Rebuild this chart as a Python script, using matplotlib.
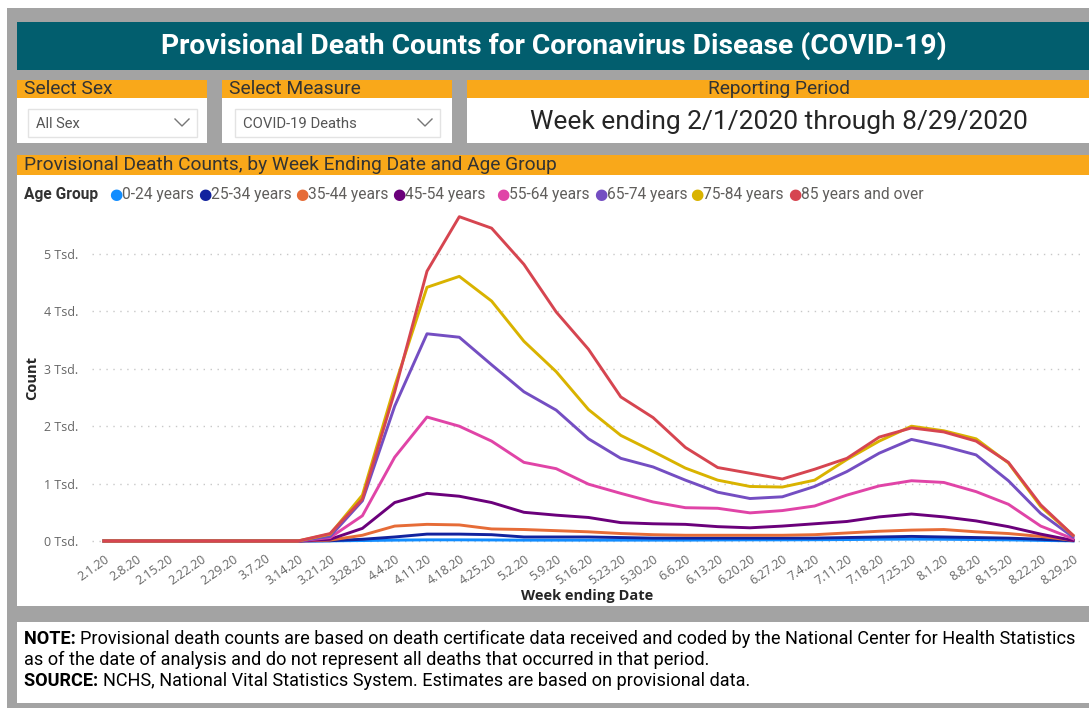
import matplotlib
matplotlib.use("Agg")
import matplotlib.pyplot as plt
from matplotlib.patches import Rectangle
from matplotlib.lines import Line2D
from matplotlib.ticker import FuncFormatter
from matplotlib import font_manager

W, H = 1089, 708

# week ending dates
weeks = ['2.1.20', '2.8.20', '2.15.20', '2.22.20', '2.29.20', '3.7.20', '3.14.20',
         '3.21.20', '3.28.20', '4.4.20', '4.11.20', '4.18.20', '4.25.20', '5.2.20',
         '5.9.20', '5.16.20', '5.23.20', '5.30.20', '6.6.20', '6.13.20', '6.20.20',
         '6.27.20', '7.4.20', '7.11.20', '7.18.20', '7.25.20', '8.1.20', '8.8.20',
         '8.15.20', '8.22.20', '8.29.20']

# deaths per age group
age_0_24 = [0, 0, 0, 0, 0, 0, 0, 2, 8, 15, 20, 20, 18, 15, 15, 15, 15, 15, 15, 18, 20,
            20, 22, 25, 30, 32, 30, 25, 20, 10, 2]
age_25_34 = [0, 0, 0, 0, 0, 0, 0, 5, 30, 70, 120, 120, 110, 70, 70, 70, 60, 50, 50, 50,
             50, 50, 50, 60, 70, 80, 70, 60, 50, 30, 5]
age_35_44 = [0, 0, 0, 0, 0, 0, 0, 15, 100, 260, 290, 280, 210, 200, 180, 160, 130, 110,
             100, 100, 100, 100, 110, 140, 170, 190, 200, 160, 130, 80, 10]
age_45_54 = [0, 0, 0, 0, 0, 0, 0, 30, 220, 670, 830, 780, 670, 500, 450, 410, 320, 300,
             290, 250, 230, 260, 300, 340, 420, 470, 420, 350, 250, 120, 10]
age_55_64 = [0, 0, 0, 0, 0, 0, 0, 60, 440, 1460, 2160, 2000, 1740, 1370, 1260, 990, 830,
             680, 580, 570, 490, 530, 610, 800, 960, 1050, 1020, 860, 640, 260, 40]
age_65_74 = [0, 0, 0, 0, 0, 0, 0, 80, 700, 2350, 3610, 3550, 3070, 2600, 2280, 1780, 1440,
             1290, 1060, 850, 740, 770, 950, 1210, 1530, 1770, 1650, 1500, 1050, 480, 70]
age_75_84 = [0, 0, 0, 0, 0, 0, 0, 120, 800, 2700, 4420, 4610, 4180, 3480, 2950, 2290, 1840,
             1560, 1270, 1060, 950, 940, 1060, 1420, 1740, 2000, 1920, 1780, 1360, 600, 100]
age_85_up = [0, 0, 0, 0, 0, 0, 0, 130, 730, 2600, 4700, 5650, 5450, 4820, 3990, 3340, 2510,
             2150, 1630, 1280, 1180, 1080, 1250, 1440, 1810, 1970, 1900, 1740, 1370, 630, 100]

groups = ['0-24 years', '25-34 years', '35-44 years', '45-54 years', '55-64 years',
          '65-74 years', '75-84 years', '85 years and over']
series = [age_0_24, age_25_34, age_35_44, age_45_54, age_55_64, age_65_74, age_75_84, age_85_up]
colors = ['#118DFF', '#12239E', '#E66C37', '#6B007B', '#E044A7', '#744EC2', '#D9B300', '#D64550']

# report texts: Roboto if present
installed = {f.name for f in font_manager.fontManager.ttflist}
ui_font = 'DejaVu Sans'
for name in ['Roboto', 'Liberation Sans']:
    if name in installed:
        ui_font = name
        break
UI = [ui_font, 'DejaVu Sans']
REG = ['Open Sans', 'DejaVu Sans']


def fx(x):
    return x / W


def fy(y):
    return 1 - y / H


def box(x0, y0, x1, y1, color, **kw):
    fig.patches.append(Rectangle((fx(x0), fy(y1)), (x1 - x0) / W, (y1 - y0) / H,
                                 transform=fig.transFigure, facecolor=color, **kw))


fig = plt.figure(figsize=(W / 100, H / 100), dpi=100)
fig.patch.set_facecolor('#a3a3a3')
renderer = fig.canvas.get_renderer()


def width(t):
    return t.get_window_extent(renderer=renderer).width


def fit(t, target):
    # scale the font so the text spans about as many pixels as in the report
    t.set_fontsize(t.get_fontsize() * target / width(t))
    return t


# white margins
box(0, 0, W, 8, 'white', edgecolor='none')
box(0, 0, 7, H, 'white', edgecolor='none')

# title banner
box(17, 22, W, 70, '#025e6e', edgecolor='none')
fit(fig.text(fx(554), fy(46), 'Provisional Death Counts for Coronavirus Disease (COVID-19)',
             color='white', fontsize=19, fontweight='bold', family=UI, ha='center',
             va='center'), 788)

# selector panels
orange = '#f9a81a'
panels = [(17, 207, 'Select Sex', 88), (222, 452, 'Select Measure', 131),
          (467, W, 'Reporting Period', 142)]
for x0, x1, lab, tw in panels:
    box(x0, 80, x1, 98, orange, edgecolor='none')
    box(x0, 98, x1, 143, 'white', edgecolor='none')
    if lab == 'Reporting Period':
        t = fig.text(fx(779), fy(89.5), lab, color='#333333', fontsize=12.5,
                     family=UI, ha='center', va='center')
    else:
        t = fig.text(fx(x0 + 7), fy(89.5), lab, color='#333333', fontsize=12.5,
                     family=UI, ha='left', va='center')
    fit(t, tw)

for x0, x1, lab, tw in [(28, 197, 'All Sex', 44), (235, 440, 'COVID-19 Deaths', 114)]:
    box(x0, 109, x1, 137, 'white', edgecolor='#e3e3e3', linewidth=1)
    fit(fig.text(fx(x0 + 8), fy(123.5), lab, color='#555555', fontsize=10.5, family=UI,
                 ha='left', va='center'), tw)
    cx = x1 - 15
    fig.lines.append(Line2D([fx(cx - 7), fx(cx), fx(cx + 7)], [fy(119), fy(126), fy(119)],
                            transform=fig.transFigure, color='#777777', linewidth=1))

fit(fig.text(fx(779), fy(122), 'Week ending 2/1/2020 through 8/29/2020', color='#252525',
             fontsize=18.5, family=UI, ha='center', va='center'), 498)

# chart section
box(17, 155, W, 175, orange, edgecolor='none')
fit(fig.text(fx(24), fy(165.5), 'Provisional Death Counts, by Week Ending Date and Age Group',
             color='#333333', fontsize=13.5, family=UI, ha='left', va='center'), 532)
box(17, 175, W, 606, 'white', edgecolor='none')

# legend
fit(fig.text(fx(24), fy(194.5), 'Age Group', color='#333333', fontsize=11,
             fontweight='bold', family=UI, ha='left', va='center'), 74)
leg_x = [116, 205, 302, 399, 503, 601, 697, 795]
t_last = fig.text(0, 0, groups[-1], fontsize=11, family=UI)
fit(t_last, 122)
leg_size = t_last.get_fontsize()
t_last.remove()
for lx, lab, c in zip(leg_x, groups, colors):
    fig.text(fx(lx), fy(194.5), '\u25CF', color=c, fontsize=11, family=['DejaVu Sans'],
             ha='center', va='center')
    fig.text(fx(lx + 6), fy(194.5), lab, color='#605e5c', fontsize=leg_size, family=UI,
             ha='left', va='center')

# plot area
px_per_k = 57.4
x_left, x_right = 92, 1085
i0_px, step = 104, (1073 - 104) / 30
ymin, ymax = -0.1, 5.8
y_bot = 541 - ymin * px_per_k
y_top = 541 - ymax * px_per_k
ax = fig.add_axes([fx(x_left), fy(y_bot), (x_right - x_left) / W, (y_bot - y_top) / H])
ax.set_zorder(5)
ax.set_facecolor('none')

x = list(range(len(weeks)))
for vals, c in zip(series, colors):
    ax.plot(x, [v / 1000 for v in vals], color=c, linewidth=2.1, solid_joinstyle='round',
            clip_on=False)

ax.set_xlim((x_left - i0_px) / step, (x_right - i0_px) / step)
ax.set_ylim(ymin, ymax)
ax.set_yticks([0, 1, 2, 3, 4, 5])
ax.yaxis.set_major_formatter(FuncFormatter(lambda v, p: f'{int(v)} Tsd.'))
ax.grid(axis='y', color='#c8c8c8', linestyle=(0, (1, 4)), linewidth=1)
ax.set_axisbelow(True)
ax.set_xticks(x)
ax.set_xticklabels(weeks, rotation=35, ha='right', rotation_mode='anchor')
for s in ax.spines.values():
    s.set_visible(False)
ax.tick_params(axis='both', length=0, labelcolor='#666666')
ax.tick_params(axis='y', labelsize=9, pad=10)
ax.tick_params(axis='x', labelsize=9, pad=4)
for t in ax.get_yticklabels() + ax.get_xticklabels():
    t.set_family(REG)

fig.text(fx(32), fy(378), 'Count', rotation=90, color='#252525', fontsize=10.5,
         fontweight='bold', family=REG, ha='center', va='center')
fig.text(fx(587), fy(596), 'Week ending Date', color='#252525', fontsize=10.5,
         fontweight='bold', family=REG, ha='center', va='center')

# notes
box(17, 622, W, 703, 'white', edgecolor='none')
notes = [(639, 'NOTE:', 'Provisional death counts are based on death certificate data '
          'received and coded by the National Center for Health Statistics'),
         (660, '', 'as of the date of analysis and do not represent all deaths that '
          'occurred in that period.'),
         (681, 'SOURCE:', 'NCHS, National Vital Statistics System. Estimates are based on '
          'provisional data.')]

# size the first line so it spans x 24..1075 like the report
probe_b = fig.text(0, 0, notes[0][1] + ' ', fontsize=12, family=UI, fontweight='bold')
probe_r = fig.text(0, 0, notes[0][2], fontsize=12, family=UI)
note_size = 12 * 1051 / (width(probe_b) + width(probe_r))
probe_b.remove()
probe_r.remove()

for yy, head, rest in notes:
    x0 = 24
    if head:
        hb = fig.text(fx(x0), fy(yy), head + ' ', color='black', fontsize=note_size,
                      family=UI, fontweight='bold', ha='left', va='center')
        x0 += width(hb)
    fig.text(fx(x0), fy(yy), rest, color='black', fontsize=note_size, family=UI,
             ha='left', va='center')

fig.savefig('out.png', dpi=100)
